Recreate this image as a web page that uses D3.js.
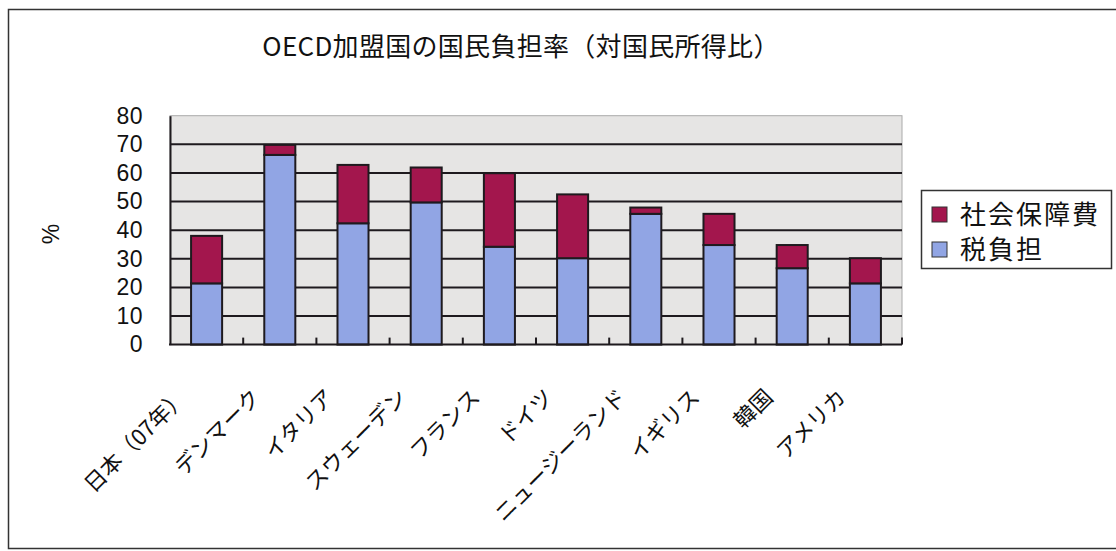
<!DOCTYPE html>
<html>
<head>
<meta charset="utf-8">
<script src="https://cdn.jsdelivr.net/npm/d3@7"></script>
<style>
  html, body { margin: 0; padding: 0; background: #fff; }
  svg { display: block; }
  .jp { font-family: "Noto Sans CJK JP", "Noto Sans", sans-serif; }
  .num { font-family: "Liberation Sans", Arial, sans-serif; }
</style>
</head>
<body>
<svg id="chart" width="1116" height="551"></svg>
<script>
// National burden ratio (% of national income), OECD countries
const categories = ["日本（07年）", "デンマーク", "イタリア", "スウェーデン", "フランス",
                    "ドイツ", "ニュージーランド", "イギリス", "韓国", "アメリカ"];
const taxBurden    = [21.4, 66.3, 42.4, 49.7, 34.2, 30.2, 45.7, 34.8, 26.7, 21.4];
const socialSecurity = [16.6, 3.5, 20.4, 12.2, 25.7, 22.3, 2.2, 10.9, 8.1, 8.8];
const yTicks = [0, 10, 20, 30, 40, 50, 60, 70, 80];
const seriesNames = ["税負担", "社会保障費"];
const seriesColors = { "税負担": "#91a5e4", "社会保障費": "#a3164d" };
const title = "OECD加盟国の国民負担率（対国民所得比）";
const yLabel = "%";

const svg = d3.select("#chart");
const plot = { left: 170, right: 902, top: 115.7, bottom: 344.6 };

// outer frame
svg.append("rect")
  .attr("x", 8.5).attr("y", 9.5).attr("width", 1120).attr("height", 539)
  .attr("fill", "none").attr("stroke", "#333").attr("stroke-width", 1.5);

// title
svg.append("text").attr("class", "jp")
  .attr("x", 521).attr("y", 56)
  .attr("text-anchor", "middle")
  .style("font-size", "26px").attr("letter-spacing", 0.3)
  .attr("fill", "#111")
  .text(title);

const x = d3.scaleBand().domain(categories)
  .range([plot.left, plot.right])
  .paddingInner(0.576).paddingOuter(0.288);
const step = x.step();
const y = d3.scaleLinear().domain([0, 80]).range([plot.bottom, plot.top]);

// plot background
svg.append("rect")
  .attr("x", plot.left).attr("y", plot.top)
  .attr("width", plot.right - plot.left).attr("height", plot.bottom - plot.top)
  .attr("fill", "#e6e5e4").attr("stroke", "#aaa").attr("stroke-width", 1);

// horizontal gridlines
svg.append("g")
  .selectAll("line")
  .data(yTicks.filter(d => d > 0 && d < 80))
  .join("line")
  .attr("x1", plot.left).attr("x2", plot.right)
  .attr("y1", d => y(d)).attr("y2", d => y(d))
  .attr("stroke", "#1e1a1e").attr("stroke-width", 2);

// stacked bars
const rows = categories.map((c, i) => ({ cat: c, "税負担": taxBurden[i], "社会保障費": socialSecurity[i] }));
const stack = d3.stack().keys(seriesNames)(rows);
svg.append("g")
  .selectAll("g")
  .data(stack)
  .join("g")
  .attr("fill", d => seriesColors[d.key])
  .selectAll("rect")
  .data(d => d)
  .join("rect")
  .attr("x", d => x(d.data.cat))
  .attr("width", x.bandwidth())
  .attr("y", d => y(d[1]))
  .attr("height", d => y(d[0]) - y(d[1]))
  .attr("stroke", "#1e1a1e").attr("stroke-width", 2);

// y axis
const yAxis = svg.append("g")
  .attr("transform", `translate(${plot.left},0)`)
  .call(d3.axisLeft(y).tickValues(yTicks).tickSize(0).tickPadding(27).tickFormat(d3.format("d")))
  .attr("font-size", null).attr("font-family", null);
yAxis.select(".domain").attr("stroke", "#1e1a1e").attr("stroke-width", 2);
yAxis.selectAll("text")
  .attr("class", "num")
  .attr("font-size", 23).attr("letter-spacing", 0.5)
  .attr("fill", "#111");

// x axis: baseline with inward ticks at category boundaries
const boundaries = d3.range(1, categories.length + 1).map(i => plot.left + i * step);
svg.append("line")
  .attr("x1", plot.left - 1).attr("x2", plot.right)
  .attr("y1", plot.bottom).attr("y2", plot.bottom)
  .attr("stroke", "#1e1a1e").attr("stroke-width", 2);
svg.append("g").selectAll("line")
  .data(boundaries)
  .join("line")
  .attr("x1", d => d).attr("x2", d => d)
  .attr("y1", plot.bottom).attr("y2", plot.bottom - 7)
  .attr("stroke", "#1e1a1e").attr("stroke-width", 2);

// category labels, rotated
svg.append("g").selectAll("text")
  .data(categories)
  .join("text")
  .attr("class", "jp")
  .attr("font-size", 22)
  .attr("fill", "#111")
  .attr("text-anchor", "end")
  .attr("transform", d => `translate(${x(d) + x.bandwidth() / 2 - 18},${plot.bottom + 54}) rotate(-45)`)
  .text(d => d);

// y axis unit label
svg.append("text")
  .attr("class", "num")
  .attr("font-size", 23).attr("fill", "#111")
  .attr("text-anchor", "middle")
  .attr("transform", "translate(59,234) rotate(-90)")
  .text(yLabel);

// legend
const legend = svg.append("g");
legend.append("rect")
  .attr("x", 921.5).attr("y", 190.5).attr("width", 190).attr("height", 78)
  .attr("fill", "#fff").attr("stroke", "#333").attr("stroke-width", 1.5);
const legendItems = ["社会保障費", "税負担"];
legend.selectAll("g.item")
  .data(legendItems)
  .join("g").attr("class", "item")
  .attr("transform", (d, i) => `translate(932,${207 + i * 35})`)
  .each(function (d) {
    const g = d3.select(this);
    g.append("rect").attr("width", 15).attr("height", 15)
      .attr("fill", seriesColors[d]).attr("stroke", "#333").attr("stroke-width", 1);
    g.append("text").attr("class", "jp")
      .attr("x", 28).attr("y", 17)
      .attr("font-size", 26).attr("letter-spacing", 2)
      .attr("fill", "#111")
      .text(d);
  });
</script>
</body>
</html>
